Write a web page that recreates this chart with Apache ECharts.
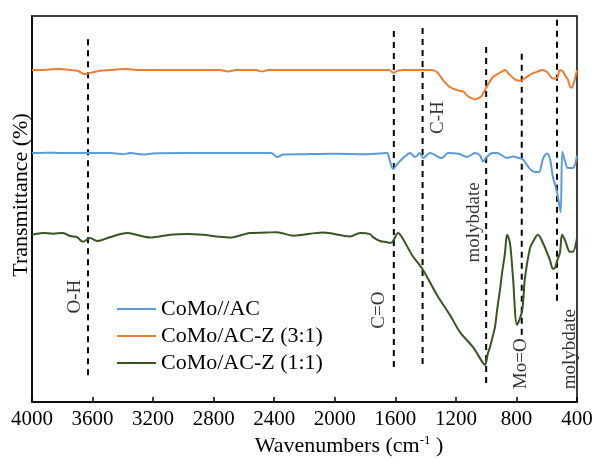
<!DOCTYPE html>
<html>
<head>
<meta charset="utf-8">
<script src="https://cdn.jsdelivr.net/npm/echarts@6/dist/echarts.min.js"></script>
<style>
html,body{margin:0;padding:0;background:#fff;}
#c{width:596px;height:462px;}
</style>
</head>
<body>
<div id="c"></div>
<script>
// ---- data (wavenumber cm-1, transmittance arbitrary units) ----
const seriesNames = ['CoMo//AC', 'CoMo/AC-Z (3:1)', 'CoMo/AC-Z (1:1)'];
const xTicks = [4000, 3600, 3200, 2800, 2400, 2000, 1600, 1200, 800, 400];

const blueData = [
  [4000, 64.5], [3900, 64.6], [3800, 64.5], [3485, 64.5], [3400, 64.2], [3350, 64.5], [3267, 64.1],
  [3200, 64.4], [3000, 64.5], [2700, 64.5], [2420, 64.5], [2382, 63.5], [2340, 64.1], [2200, 64.2],
  [2000, 64.3], [1800, 64.2], [1700, 64.4], [1655, 64.5], [1640, 63.0], [1615, 60.4], [1582, 61.9],
  [1540, 63.5], [1503, 64.5], [1470, 63.5], [1437, 64.5], [1417, 63.2], [1371, 64.5], [1292, 63.2],
  [1252, 64.5], [1180, 64.3], [1127, 63.5], [1074, 64.5], [1041, 63.9], [1021, 62.3], [995, 63.5],
  [960, 64.5], [928, 64.5], [862, 63.2], [823, 63.6], [790, 63.3], [763, 63.0], [744, 62.2],
  [711, 60.4], [678, 59.6], [650, 59.6], [625, 63.0], [598, 64.4], [579, 63.0], [559, 58.3],
  [539, 55.5], [526, 53.1], [508, 49.2], [497, 64.8], [480, 62.5], [460, 60.6], [427, 60.6], [400, 63.8]
];

const orangeData = [
  [4000, 86.0], [3900, 86.1], [3815, 86.3], [3750, 86.0], [3700, 85.8], [3650, 84.9], [3600, 85.4],
  [3550, 85.8], [3480, 86.0], [3430, 86.2], [3372, 86.3], [3300, 86.0], [3000, 86.0], [2760, 86.0],
  [2705, 85.6], [2650, 86.0], [2520, 86.0], [2481, 85.6], [2440, 86.0], [1900, 86.0], [1700, 86.0],
  [1640, 86.0], [1615, 85.3], [1580, 85.9], [1549, 86.0], [1450, 86.0], [1358, 86.0], [1320, 85.3],
  [1285, 83.4], [1240, 81.6], [1193, 80.8], [1150, 80.4], [1127, 79.4], [1074, 78.4], [1041, 78.9],
  [1028, 79.4], [1001, 81.3], [955, 84.2], [900, 85.5], [876, 86.0], [850, 85.0], [810, 83.6],
  [777, 83.2], [740, 84.0], [700, 85.0], [660, 85.6], [631, 86.0], [598, 85.5], [559, 83.8],
  [532, 83.9], [513, 86.0], [490, 85.5], [480, 84.7], [460, 83.5], [447, 81.8], [435, 81.4],
  [420, 82.8], [400, 86.0]
];

const greenData = [
  [4000, 43.3], [3927, 43.8], [3860, 43.6], [3795, 43.8], [3749, 43.0], [3703, 42.7], [3663, 41.5],
  [3617, 42.5], [3571, 41.7], [3485, 42.7], [3372, 43.8], [3300, 43.2], [3221, 42.6], [3088, 43.3],
  [2976, 43.5], [2870, 43.3], [2780, 42.9], [2692, 42.6], [2560, 43.8], [2450, 43.9], [2382, 44.0],
  [2276, 43.1], [2078, 43.9], [1899, 42.9], [1833, 43.8], [1767, 43.5], [1748, 42.7], [1701, 41.7],
  [1655, 41.4], [1635, 41.2], [1615, 41.7], [1582, 43.8], [1556, 42.7], [1490, 38.1], [1417, 34.2],
  [1325, 27.7], [1239, 22.5], [1173, 18.1], [1087, 14.2], [1021, 10.1], [1008, 9.6], [988, 12.7],
  [975, 14.2], [942, 19.4], [928, 23.8], [909, 29.0], [895, 33.4], [876, 38.5], [862, 43.3],
  [843, 41.2], [823, 32.4], [796, 20.0], [763, 23.5], [744, 32.0], [711, 39.8], [691, 41.5],
  [658, 43.3], [625, 41.2], [579, 36.8], [559, 34.5], [546, 34.7], [532, 36.5], [513, 38.6],
  [499, 43.3], [480, 42.0], [447, 38.9], [427, 38.9], [400, 42.5]
];

// dashed marker lines: wavenumber, top value, bottom value
const markerX = [3630, 1610, 1420, 1000, 765, 532];
const markerTop = [94.0, 96.1, 96.9, 92.0, 90.2, 99.0];
const markerBottom = [6.5, 8.8, 9.6, 4.9, 17.1, 25.6];

// annotation labels: text, wavenumber, value (centre)
const annText = ['O-H', 'C=O', 'C-H', 'molybdate', 'Mo=O', 'molybdate'];
const annX = [3719, 1705, 1315, 1080, 767, 449];
const annY = [27.3, 23.8, 73.7, 46.5, 9.9, 13.7];

const colors = ['#5B9BD5', '#ED7D31', '#375623'];
const FONT = '"Liberation Serif", "Times New Roman", serif';

const chart = echarts.init(document.getElementById('c'), null, {renderer: 'canvas'});

const markerSeries = markerX.map((x, i) => ({
  type: 'line',
  name: 'marker' + i,
  data: [[x, markerTop[i]], [x, markerBottom[i]]],
  symbol: 'none',
  silent: true,
  z: 1,
  lineStyle: {color: '#000', width: 2, type: [6, 5]}
}));

const labelSeries = {
  type: 'scatter',
  name: 'labels',
  symbolSize: 0,
  silent: true,
  data: annText.map((t, i) => ({value: [annX[i], annY[i]], name: t})),
  label: {
    show: true,
    position: 'inside',
    formatter: p => p.name,
    rotate: 90,
    fontFamily: FONT,
    fontSize: 19,
    color: '#000'
  }
};

const dataSets = [blueData, orangeData, greenData];

chart.setOption({
  animation: false,
  backgroundColor: '#fff',
  grid: {left: 32, right: 19, top: 16, bottom: 60, show: true, borderColor: '#000', borderWidth: 1.5, containLabel: false},
  xAxis: {
    type: 'value', min: 400, max: 4000, interval: 400, inverse: true,
    axisLine: {show: true, lineStyle: {color: '#000', width: 1.5}},
    axisTick: {show: true, inside: true, length: 5, lineStyle: {color: '#000', width: 1.5}},
    axisLabel: {color: '#000', fontFamily: FONT, fontSize: 21, margin: 7,
      formatter: v => (xTicks.indexOf(v) >= 0 ? String(v) : '')},
    splitLine: {show: false}
  },
  yAxis: {
    type: 'value', min: 0, max: 100,
    axisLine: {show: true, lineStyle: {color: '#000', width: 1.5}},
    axisTick: {show: false}, axisLabel: {show: false}, splitLine: {show: false}
  },
  legend: {
    orient: 'vertical', left: 117, top: 298, padding: 0,
    icon: 'rect', itemWidth: 39, itemHeight: 2, itemGap: 5,
    data: seriesNames,
    textStyle: {fontFamily: FONT, fontSize: 22, lineHeight: 20, color: '#000'}
  },
  graphic: [
    {type: 'text', x: 21, y: 195, rotation: Math.PI / 2,
      style: {text: 'Transmittance (%)', font: '22px ' + FONT, fill: '#000', align: 'center', verticalAlign: 'middle'}},
    {type: 'text', x: 349, y: 446,
      style: {text: 'Wavenumbers (cm{sup|-1} )', font: '22px ' + FONT, fill: '#000', align: 'center', verticalAlign: 'middle',
        rich: {sup: {fontSize: 13, fontFamily: FONT, verticalAlign: 'top', padding: [0, 0, 10, 0]}}}}
  ],
  series: [
    ...seriesNames.map((n, i) => ({
      type: 'line', name: n, data: dataSets[i], symbol: 'none', smooth: 0.3, z: 3,
      lineStyle: {color: colors[i], width: 2}, itemStyle: {color: colors[i]}
    })),
    ...markerSeries,
    labelSeries
  ]
});
</script>
</body>
</html>
